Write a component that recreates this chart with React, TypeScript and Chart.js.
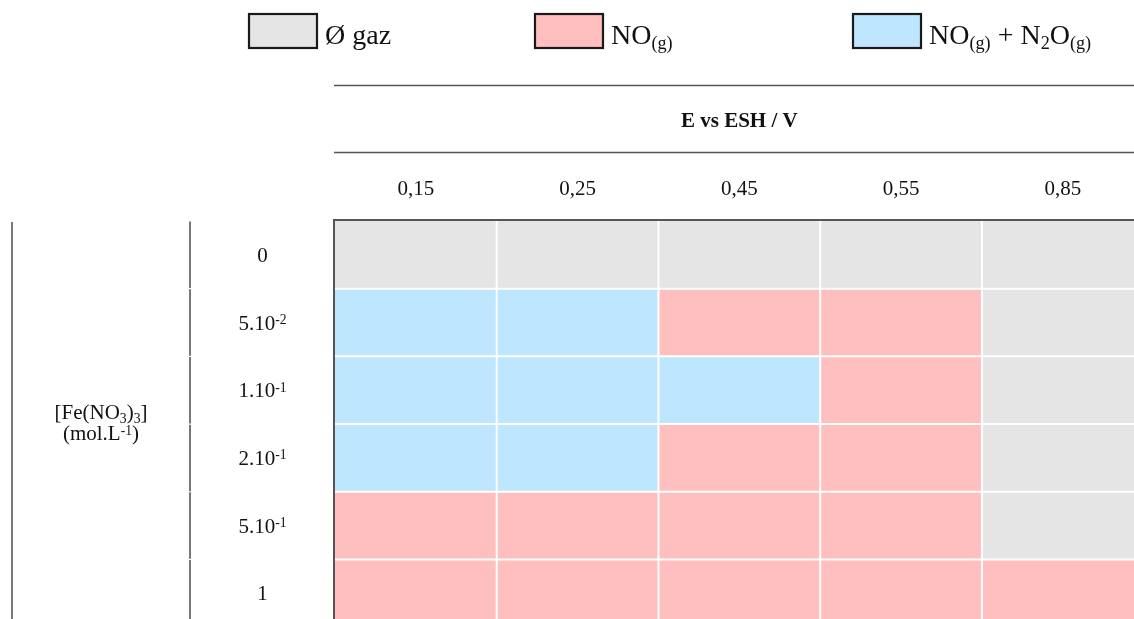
import React, { useEffect, useRef } from "react";
import { Chart, registerables } from "chart.js";

Chart.register(...registerables);

type Part = { t: string; s?: "sub" | "sup" };

// ---- data ----
const potentials = ["0,15", "0,25", "0,45", "0,55", "0,85"];
const concentrationMantissa = ["0", "5.10", "1.10", "2.10", "5.10", "1"];
const concentrationExponent = ["", "-2", "-1", "-1", "-1", ""];

const stateCodes = ["none", "NO", "mix"];
const stateColors = ["#E5E5E5", "#FFBFBF", "#BFE6FF"];
const stateLabels: Part[][] = [
  [{ t: "Ø gaz" }],
  [{ t: "NO" }, { t: "(g)", s: "sub" }],
  [
    { t: "NO" },
    { t: "(g)", s: "sub" },
    { t: " + N" },
    { t: "2", s: "sub" },
    { t: "O" },
    { t: "(g)", s: "sub" },
  ],
];

const rowConc0 = ["none", "none", "none", "none", "none"];
const rowConc1 = ["mix", "mix", "NO", "NO", "none"];
const rowConc2 = ["mix", "mix", "mix", "NO", "none"];
const rowConc3 = ["mix", "mix", "NO", "NO", "none"];
const rowConc4 = ["NO", "NO", "NO", "NO", "none"];
const rowConc5 = ["NO", "NO", "NO", "NO", "NO"];
const outcomeRows = [rowConc0, rowConc1, rowConc2, rowConc3, rowConc4, rowConc5];

const xTitle = "E vs ESH / V";
const yTitleLine1: Part[] = [
  { t: "[Fe(NO" },
  { t: "3", s: "sub" },
  { t: ")" },
  { t: "3", s: "sub" },
  { t: "]" },
];
const yTitleLine2: Part[] = [{ t: "(mol.L" }, { t: "-1", s: "sup" }, { t: ")" }];

// ---- helpers ----
const FAMILY = "'Liberation Serif', 'Times New Roman', serif";
const TEXT = "#111111";
const RULE = "#555555";

function fontStr(size: number, bold = false) {
  return `${bold ? "bold " : ""}${size}px ${FAMILY}`;
}

function richWidth(ctx: CanvasRenderingContext2D, parts: Part[], size: number, bold = false) {
  let w = 0;
  for (const p of parts) {
    const s = p.s ? size * 0.65 : size;
    ctx.font = fontStr(s, bold);
    w += ctx.measureText(p.t).width;
  }
  return w;
}

function drawRich(
  ctx: CanvasRenderingContext2D,
  parts: Part[],
  x: number,
  y: number,
  size: number,
  align: "left" | "center",
  bold = false
) {
  let cx = align === "center" ? x - richWidth(ctx, parts, size, bold) / 2 : x;
  ctx.textAlign = "left";
  ctx.textBaseline = "alphabetic";
  ctx.fillStyle = TEXT;
  for (const p of parts) {
    const s = p.s ? size * 0.65 : size;
    const dy = p.s === "sub" ? size * 0.19 : p.s === "sup" ? -size * 0.26 : 0;
    ctx.font = fontStr(s, bold);
    ctx.fillText(p.t, cx, y + dy);
    cx += ctx.measureText(p.t).width;
  }
}

function hLine(ctx: CanvasRenderingContext2D, x0: number, x1: number, y: number, w: number) {
  ctx.beginPath();
  ctx.moveTo(x0, y);
  ctx.lineTo(x1, y);
  ctx.lineWidth = w;
  ctx.strokeStyle = RULE;
  ctx.stroke();
}

function vLine(ctx: CanvasRenderingContext2D, x: number, y0: number, y1: number, w: number) {
  ctx.beginPath();
  ctx.moveTo(x, y0);
  ctx.lineTo(x, y1);
  ctx.lineWidth = w;
  ctx.strokeStyle = RULE;
  ctx.stroke();
}

const legendBoxX = [249, 535, 853];

const decorPlugin = {
  id: "tableDecor",
  afterDatasetsDraw(chart: any) {
    const ctx: CanvasRenderingContext2D = chart.ctx;
    const xs = chart.scales.x;
    const ys = chart.scales.y;
    const area = chart.chartArea;
    const W = chart.width;
    const H = chart.height;
    ctx.save();

    // legend
    chart.data.datasets.forEach((ds: any, i: number) => {
      const bx = legendBoxX[i];
      ctx.fillStyle = ds.backgroundColor;
      ctx.fillRect(bx, 14, 68, 34);
      ctx.lineWidth = 2.2;
      ctx.strokeStyle = "#1a1a1a";
      ctx.strokeRect(bx, 14, 68, 34);
      drawRich(ctx, stateLabels[i], bx + 76, 44, 28, "left");
    });

    // header rules & title
    hLine(ctx, area.left - 1, W, 85.5, 1.6);
    hLine(ctx, area.left - 1, W, 152.5, 1.6);
    hLine(ctx, area.left - 2, W, area.top - 1, 2);
    vLine(ctx, area.left - 1, area.top - 1, H, 2);

    const xMid = xs.getPixelForValue(potentials.length / 2);
    ctx.font = fontStr(21, true);
    ctx.fillStyle = TEXT;
    ctx.textAlign = "center";
    ctx.textBaseline = "alphabetic";
    ctx.fillText(xTitle, xMid, 127);

    // column labels
    ctx.font = fontStr(21);
    potentials.forEach((lab, j) => {
      ctx.fillStyle = TEXT;
      ctx.textAlign = "center";
      ctx.fillText(lab, xs.getPixelForValue(j + 0.5), 194.5);
    });

    // row structure lines
    const labelLineX = 190;
    const outerLineX = 12;
    vLine(ctx, outerLineX, area.top + 1, H, 1.6);
    concentrationMantissa.forEach((_, i) => {
      const top = ys.getPixelForValue(i - 0.5);
      const bot = ys.getPixelForValue(i + 0.5);
      vLine(ctx, labelLineX, top + 0.6, Math.min(bot - 0.6, H), 1.6);
    });

    // row labels
    const rowLabelX = (labelLineX + area.left) / 2;
    concentrationMantissa.forEach((m, i) => {
      const parts: Part[] = [{ t: m }];
      if (concentrationExponent[i]) parts.push({ t: concentrationExponent[i], s: "sup" });
      drawRich(ctx, parts, rowLabelX, ys.getPixelForValue(i) + 7, 21, "center");
    });

    // y title
    const yMid = ys.getPixelForValue((concentrationMantissa.length - 1) / 2);
    const titleX = (outerLineX + labelLineX) / 2;
    drawRich(ctx, yTitleLine1, titleX, yMid - 5, 21, "center");
    drawRich(ctx, yTitleLine2, titleX, yMid + 16, 21, "center");

    ctx.restore();
  },
};

export default function App() {
  const ref = useRef<HTMLCanvasElement>(null);

  useEffect(() => {
    const datasets = stateCodes.map((code, s) => {
      const data: { x: [number, number]; y: number }[] = [];
      outcomeRows.forEach((row, i) => {
        row.forEach((c, j) => {
          if (c === code) data.push({ x: [j, j + 1], y: i });
        });
      });
      return {
        label: code,
        data,
        backgroundColor: stateColors[s],
        borderColor: "#ffffff",
        borderSkipped: false as const,
        borderWidth: (c: any) => {
          const r = c.raw;
          if (!r) return 1;
          return {
            top: r.y === 0 ? 0 : 1,
            bottom: 1,
            left: r.x[0] === 0 ? 0 : 1,
            right: 1,
          };
        },
        grouped: false,
        inflateAmount: 0,
        categoryPercentage: 1,
        barPercentage: 1,
      };
    });

    const chart = new Chart(ref.current as HTMLCanvasElement, {
      type: "bar",
      data: { datasets: datasets as any },
      options: {
        indexAxis: "y",
        responsive: false,
        animation: false,
        devicePixelRatio: 1,
        events: [],
        layout: { padding: { left: 335, top: 221, right: 0, bottom: 0 } },
        plugins: { legend: { display: false }, tooltip: { enabled: false } },
        scales: {
          x: { type: "linear", min: 0, max: 4.94, display: false, offset: false },
          y: {
            type: "linear",
            min: -0.5,
            max: 5.38,
            reverse: true,
            display: false,
            offset: false,
            ticks: { stepSize: 1, includeBounds: false },
          },
        },
      } as any,
      plugins: [decorPlugin],
    });
    return () => chart.destroy();
  }, []);

  return (
    <div
      style={{
        position: "fixed",
        left: 0,
        top: 0,
        width: 1134,
        height: 619,
        background: "#ffffff",
        overflow: "hidden",
      }}
    >
      <canvas ref={ref} width={1134} height={619} style={{ display: "block" }} />
    </div>
  );
}
